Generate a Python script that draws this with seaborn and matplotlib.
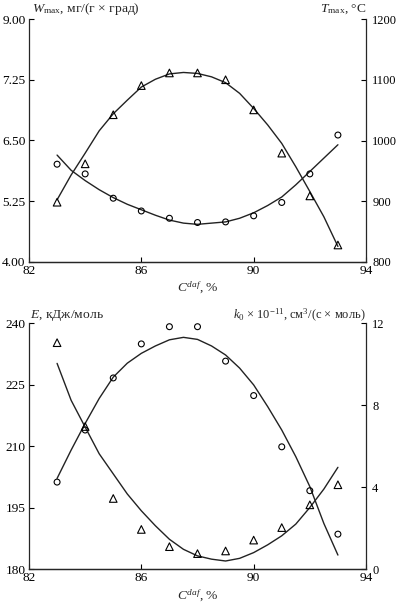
import numpy as np
import pandas as pd
import matplotlib
matplotlib.use("Agg")
import matplotlib.pyplot as plt
import seaborn as sns

# ---- data ----
c_daf = [83, 84, 85, 86, 87, 88, 89, 90, 91, 92, 93]

# top panel: measured points
w_max_pts = [5.23, 6.02, 7.03, 7.63, 7.89, 7.89, 7.75, 7.13, 6.24, 5.36, 4.35]
t_max_pts = [961, 945, 905, 884, 872, 865, 866, 876, 898, 945, 1009]

# bottom panel: measured points
e_pts = [201.2, 213.9, 226.6, 234.9, 239.1, 239.1, 230.7, 222.3, 209.8, 199.1, 188.5]
k0_pts = [11.04, 6.95, 3.44, 1.93, 1.09, 0.75, 0.88, 1.41, 2.02, 3.13, 4.11]

# drawn curves, read at half steps of C^daf
c_curve = [83, 83.5, 84, 84.5, 85, 85.5, 86, 86.5, 87, 87.5, 88,
           88.5, 89, 89.5, 90, 90.5, 91, 91.5, 92, 92.5, 93]
w_max_fit = [5.28, 5.79, 6.24, 6.70, 7.05, 7.33, 7.60, 7.76, 7.87, 7.90, 7.88,
             7.81, 7.69, 7.47, 7.16, 6.82, 6.44, 5.96, 5.45, 4.93, 4.32]
t_max_fit = [976, 951, 934, 919, 906, 895, 886, 877, 869, 864, 862,
             864, 866, 872, 881, 893, 907, 927, 949, 971, 993]
e_fit = [202.1, 209.0, 215.5, 221.6, 226.8, 230.2, 232.6, 234.4, 235.9, 236.5, 236.0,
         234.4, 232.2, 229.0, 224.9, 219.6, 213.9, 207.4, 200.1, 191.1, 183.4]
k0_fit = [10.03, 8.23, 6.92, 5.62, 4.64, 3.66, 2.84, 2.11, 1.45, 0.96, 0.64,
          0.48, 0.39, 0.52, 0.80, 1.18, 1.62, 2.19, 3.00, 3.90, 4.96]

x_ticks = [82, 86, 90, 94]
w_ticks = [4.00, 5.25, 6.50, 7.75, 9.00]
w_tick_labels = ["4.00", "5.25", "6.50", "7.25", "9.00"]
t_ticks = [800, 900, 1000, 1100, 1200]
e_ticks = [180, 195, 210, 225, 240]
k0_ticks = [0, 4, 8, 12]

top_pts = pd.DataFrame({"c": c_daf, "w": w_max_pts, "t": t_max_pts})
bot_pts = pd.DataFrame({"c": c_daf, "e": e_pts, "k": k0_pts})
curves = pd.DataFrame({"c": c_curve, "wf": w_max_fit, "tf": t_max_fit,
                       "ef": e_fit, "kf": k0_fit})

# ---- style ----
sns.set_style("ticks")
plt.rcParams["font.family"] = ["Liberation Serif", "DejaVu Serif"]
plt.rcParams["mathtext.fontset"] = "custom"
plt.rcParams["mathtext.rm"] = "Liberation Serif"
plt.rcParams["mathtext.it"] = "Liberation Serif:italic"
plt.rcParams["font.size"] = 10
plt.rcParams["xtick.direction"] = "in"
plt.rcParams["ytick.direction"] = "in"
plt.rcParams["axes.linewidth"] = 0.9

W, H = 397, 604
fig = plt.figure(figsize=(W / 100, H / 100), dpi=100)

def frac_x(px):
    return px / W

def frac_y(py):
    return 1 - py / H

L, R = 29, 366

def make_axes(top_px, bot_px):
    ax = fig.add_axes([frac_x(L), frac_y(bot_px), frac_x(R - L),
                       (bot_px - top_px) / H])
    axr = ax.twinx()
    for a in (ax, axr):
        a.spines["top"].set_visible(False)
        a.tick_params(length=3.5, width=0.8, colors="black")
    ax.tick_params(axis="y", labelsize=9.6, pad=2.5)
    ax.tick_params(axis="x", labelsize=9.6, pad=2.5)
    axr.tick_params(axis="y", labelsize=9.0, pad=4.5)
    ax.spines["right"].set_visible(False)
    axr.spines["left"].set_visible(False)
    return ax, axr

mk_tri = dict(marker="^", s=30, facecolor="none", edgecolor="black",
              linewidth=0.8, zorder=3)
mk_circ = dict(marker="o", s=18, facecolor="none", edgecolor="black",
               linewidth=0.8, zorder=3)
line_kw = dict(color="#222222", linewidth=1.0)

# ---- top panel ----
ax1, ax1r = make_axes(19, 262)
sns.lineplot(data=curves, x="c", y="wf", ax=ax1, **line_kw)
sns.scatterplot(data=top_pts, x="c", y="w", ax=ax1, **mk_tri)
sns.lineplot(data=curves, x="c", y="tf", ax=ax1r, **line_kw)
sns.scatterplot(data=top_pts, x="c", y="t", ax=ax1r, **mk_circ)
ax1.set_xlim(82, 94)
ax1.set_ylim(4, 9)
ax1r.set_ylim(800, 1200)
ax1.set_xticks(x_ticks)
ax1.set_yticks(w_ticks)
ax1.set_yticklabels(w_tick_labels)
ax1r.set_yticks(t_ticks)
for a in (ax1, ax1r):
    a.set_xlabel("")
    a.set_ylabel("")

# ---- bottom panel ----
ax2, ax2r = make_axes(323, 569)
sns.lineplot(data=curves, x="c", y="ef", ax=ax2, **line_kw)
sns.scatterplot(data=bot_pts, x="c", y="e", ax=ax2, **mk_circ)
sns.lineplot(data=curves, x="c", y="kf", ax=ax2r, **line_kw)
sns.scatterplot(data=bot_pts, x="c", y="k", ax=ax2r, **mk_tri)
ax2.set_xlim(82, 94)
ax2.set_ylim(180, 240)
ax2r.set_ylim(0, 12)
ax2.set_xticks(x_ticks)
ax2.set_yticks(e_ticks)
ax2r.set_yticks(k0_ticks)
for a in (ax2, ax2r):
    a.set_xlabel("")
    a.set_ylabel("")

# ---- texts ----
fs = 9.7
fig.text(frac_x(32), frac_y(9), r"$W_{\mathrm{max}}$, мг/(г × град)",
         ha="left", va="center", fontsize=fs)
fig.text(frac_x(366), frac_y(9), r"$T_{\mathrm{max}}$, °C",
         ha="right", va="center", fontsize=fs)
fig.text(frac_x(198), frac_y(288), r"$C^{daf}$, %",
         ha="center", va="center", fontsize=fs)
fig.text(frac_x(30), frac_y(315), r"$E$, кДж/моль",
         ha="left", va="center", fontsize=fs)
fig.text(frac_x(366), frac_y(315),
         r"$k_0$ × 10$^{-11}$, см$^3$/(с × моль)",
         ha="right", va="center", fontsize=9.0)
fig.text(frac_x(198), frac_y(596), r"$C^{daf}$, %",
         ha="center", va="center", fontsize=fs)

fig.savefig("out.png", dpi=100)
